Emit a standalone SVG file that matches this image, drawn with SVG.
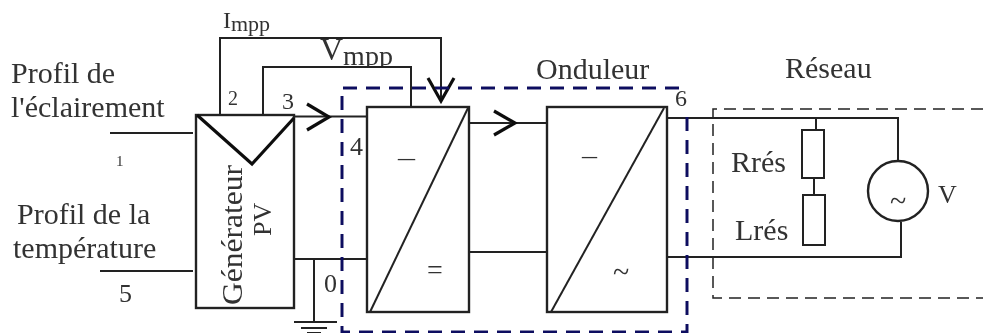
<svg xmlns="http://www.w3.org/2000/svg" width="983" height="336" viewBox="0 0 983 336">
<style>
text{font-family:"Liberation Serif","Times New Roman",serif;fill:#333}
.w{fill:none;stroke:#222;stroke-width:2}
.b{fill:none;stroke:#222;stroke-width:2.4}
.a{fill:none;stroke:#111;stroke-width:3.2}
.t30{font-size:30px}.t26{font-size:26px}
</style>
<defs>
<filter id="soft" x="0" y="0" width="100%" height="100%"><feGaussianBlur stdDeviation="0.45"/></filter>
<clipPath id="vclip"><rect x="310" y="30" width="100" height="36"/></clipPath>
</defs>
<rect width="983" height="336" fill="#fff"/>
<g filter="url(#soft)">
<g id="connectors">
<path class="w" d="M220 115V38H441V100"/>
<path class="w" d="M263 115V67H411V107"/>
<path class="w" d="M294 116.500H367"/>
<path class="a" d="M307 104L329 117L307 130"/>
<path class="a" d="M428 78L441 101L454 78"/>
<path class="w" d="M469 123H547"/>
<path class="a" d="M494 111L515 123L494 135"/>
<path class="w" d="M469 252H547"/>
<path class="w" d="M110 133H193"/>
<path class="w" d="M100 271H193"/>
<path class="w" d="M294 259H367"/>
<path class="w" d="M314 259V322"/>
<path class="w" d="M294 322H337"/>
<path class="w" d="M301 328H327"/>
<path class="w" d="M307 333H321" stroke-width="3"/>
<path class="w" d="M667 118H898V160"/>
<path class="w" d="M667 257H901V222"/>
<path class="w" d="M816 118V130"/>
<path class="w" d="M814 178V195"/>
</g>
<g id="onduleur-frame">
<path d="M687 117V332H342V88H680" fill="none" stroke="#101060" stroke-width="3" stroke-dasharray="14 9"/>
<text class="t30" x="536" y="79">Onduleur</text>
</g>
<g id="reseau-frame">
<path d="M983 109H713V298H983" fill="none" stroke="#222" stroke-width="1.500" stroke-dasharray="12 7"/>
<text class="t30" x="785" y="78">Réseau</text>
</g>
<g id="generateur">
<rect class="b" x="196" y="115" width="98" height="193"/>
<path class="a" d="M197 115L252 164L294 118" stroke-width="2.800"/>
<text class="t30" transform="translate(242 305) rotate(-90)" textLength="140" lengthAdjust="spacingAndGlyphs">Générateur</text>
<text class="t26" transform="translate(271 236) rotate(-90)">PV</text>
</g>
<g id="convertisseur-dc">
<rect class="b" x="367" y="107" width="102" height="205"/>
<path class="w" d="M370 312L468 108"/>
<text class="t26" x="398" y="166" textLength="17" lengthAdjust="spacingAndGlyphs">–</text>
<text x="427" y="279" font-size="28">=</text>
</g>
<g id="convertisseur-ac">
<rect class="b" x="547" y="107" width="120" height="205"/>
<path class="w" d="M551 312L664 108"/>
<text class="t26" x="582" y="164" textLength="15" lengthAdjust="spacingAndGlyphs">–</text>
<text class="t30" x="613" y="282">~</text>
</g>
<g id="rres">
<rect class="w" x="802" y="130" width="22" height="48"/>
<text class="t30" x="731" y="172">Rrés</text>
</g>
<g id="lres">
<rect class="w" x="803" y="195" width="22" height="50"/>
<text class="t30" x="735" y="240">Lrés</text>
</g>
<g id="source">
<circle class="b" cx="898" cy="191" r="30"/>
<text class="t30" x="890" y="211">~</text>
<text class="t26" x="938" y="203">V</text>
</g>
<g id="labels">
<text class="t30" x="11" y="83">Profil de</text>
<text class="t30" x="11" y="117">l'éclairement</text>
<text class="t30" x="17" y="224">Profil de la</text>
<text class="t30" x="13" y="258">température</text>
<text class="t26" x="119" y="302">5</text>
<text x="116" y="166" font-size="15">1</text>
<text x="228" y="105" font-size="20">2</text>
<text x="282" y="109" font-size="24">3</text>
<text class="t26" x="350" y="155">4</text>
<text class="t26" x="324" y="292">0</text>
<text x="223" y="28" font-size="24">I<tspan font-size="22" dy="3">mpp</tspan></text>
<text x="320" y="60" font-size="32" clip-path="url(#vclip)">V<tspan font-size="28" dy="5">mpp</tspan></text>
<text x="675" y="106" font-size="24">6</text>
</g>
</g>
</svg>
